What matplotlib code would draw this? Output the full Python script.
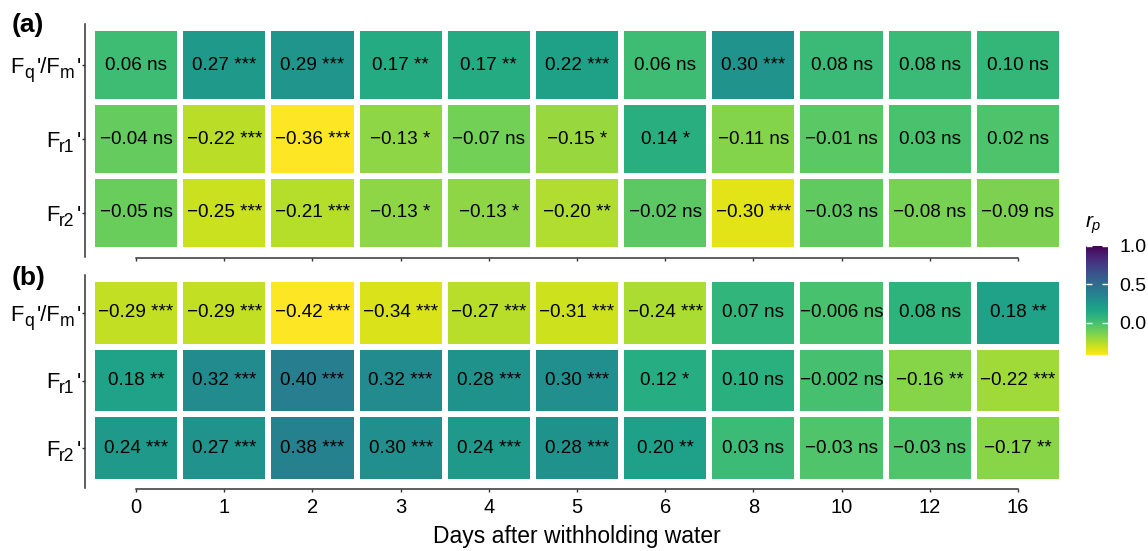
import numpy as np
import matplotlib
matplotlib.use("Agg")
import matplotlib.pyplot as plt
from matplotlib.colors import Normalize
from matplotlib.cm import ScalarMappable
from matplotlib.transforms import IdentityTransform

plt.rcParams['font.family'] = ['Liberation Sans', 'DejaVu Sans']
plt.rcParams['mathtext.fontset'] = 'custom'
plt.rcParams['mathtext.rm'] = 'Liberation Sans'
plt.rcParams['mathtext.it'] = 'Liberation Sans:italic'

days = ['0', '1', '2', '3', '4', '5', '6', '8', '10', '12', '16']
# row labels as (text, is_subscript) pieces
rows = [
    [("F", 0), ("q", 1), ("'/F", 0), ("m", 1), ("'", 0)],
    [("F", 0), ("r1", 1), ("'", 0)],
    [("F", 0), ("r2", 1), ("'", 0)],
]

r_a = [
    [0.06, 0.27, 0.29, 0.17, 0.17, 0.22, 0.06, 0.30, 0.08, 0.08, 0.10],
    [-0.04, -0.22, -0.36, -0.13, -0.07, -0.15, 0.14, -0.11, -0.01, 0.03, 0.02],
    [-0.05, -0.25, -0.21, -0.13, -0.13, -0.20, -0.02, -0.30, -0.03, -0.08, -0.09],
]
sig_a = [
    ['ns', '***', '***', '**', '**', '***', 'ns', '***', 'ns', 'ns', 'ns'],
    ['ns', '***', '***', '*', 'ns', '*', '*', 'ns', 'ns', 'ns', 'ns'],
    ['ns', '***', '***', '*', '*', '**', 'ns', '***', 'ns', 'ns', 'ns'],
]
r_b = [
    [-0.29, -0.29, -0.42, -0.34, -0.27, -0.31, -0.24, 0.07, -0.006, 0.08, 0.18],
    [0.18, 0.32, 0.40, 0.32, 0.28, 0.30, 0.12, 0.10, -0.002, -0.16, -0.22],
    [0.24, 0.27, 0.38, 0.30, 0.24, 0.28, 0.20, 0.03, -0.03, -0.03, -0.17],
]
sig_b = [
    ['***', '***', '***', '***', '***', '***', '***', 'ns', 'ns', 'ns', '**'],
    ['**', '***', '***', '***', '***', '***', '*', 'ns', 'ns', '**', '***'],
    ['***', '***', '***', '***', '***', '***', '**', 'ns', 'ns', 'ns', '**'],
]

W, H = 1148, 551
fig = plt.figure(figsize=(W / 100, H / 100), dpi=100)


def box(x0, y0, x1, y1):
    return [x0 / W, 1 - y1 / H, (x1 - x0) / W, (y1 - y0) / H]


def fmt(v):
    s = f"{v:.3f}" if (abs(v) < 0.01 and v != 0) else f"{v:.2f}"
    return s.replace('-', '\u2212')


PX = 0.72  # points per pixel
spine_col = '#333333'


def panel(ax, r, sig, top_ext, bot_ext, left_out, bot_out, pitch_y, show_x):
    data = np.array(r)
    norm = Normalize(vmin=data.min(), vmax=1.0)
    nx, ny = data.shape[1], data.shape[0]
    ax.pcolormesh(np.arange(nx + 1) - 0.5, np.arange(ny + 1) - 0.5, data,
                  cmap='viridis_r', norm=norm, edgecolors='white', linewidth=2.9)
    for i in range(ny):
        for j in range(nx):
            ax.text(j, i, f"{fmt(r[i][j])} {sig[i][j]}", ha='center', va='center',
                    fontsize=13.6, color='black')
    ax.set_xlim(-0.5, nx - 0.5)
    ax.set_ylim(ny - 0.5, -0.5)
    for s in ('top', 'right'):
        ax.spines[s].set_visible(False)
    ax.spines['left'].set_position(('outward', left_out * PX))
    ax.spines['left'].set_bounds(-0.5 - top_ext / pitch_y, ny - 0.5 + bot_ext / pitch_y)
    ax.spines['bottom'].set_position(('outward', bot_out * PX))
    ax.spines['bottom'].set_bounds(0, nx - 1)
    for s in ('left', 'bottom'):
        ax.spines[s].set_color(spine_col)
        ax.spines[s].set_linewidth(1.1)
    ax.tick_params(axis='both', length=3 * PX, width=1.0, color=spine_col)
    ax.tick_params(axis='y', labelleft=False)
    ax.tick_params(axis='x', labelsize=14.5, pad=4, labelbottom=show_x)
    ax.set_xticks(range(nx))
    ax.set_xticklabels(days)
    ax.set_yticks(range(ny))
    return norm


ax_a = fig.add_axes(box(92, 28, 1062, 250))
panel(ax_a, r_a, sig_a, 4, 7, 7, 8, 74, False)

ax_b = fig.add_axes(box(92, 279, 1062, 482))
norm_b = panel(ax_b, r_b, sig_b, 4, 6, 7, 7, 67.7, True)
ax_b.set_xlabel('Days after withholding water', fontsize=16.5, labelpad=6)

fig.text(12 / W, 1 - 25 / H, '(a)', fontsize=19, fontweight='bold', ha='left', va='center')
fig.text(12 / W, 1 - 278 / H, '(b)', fontsize=19, fontweight='bold', ha='left', va='center')

cax = fig.add_axes(box(1086, 246, 1108, 355))
cb = fig.colorbar(ScalarMappable(norm=norm_b, cmap='viridis_r'), cax=cax)
cb.outline.set_visible(False)
cb.set_ticks([0.0, 0.5, 1.0])
cb.set_ticklabels(['0.0', '0.5', '1.0'])
cax.tick_params(which='both', direction='in', color='white', labelcolor='black',
                length=4, width=1.0, left=True, right=True, labelsize=14, pad=8)
fig.text(1085 / W, 1 - 228 / H, '$r_p$', fontsize=15, ha='left', va='baseline')

# composite row labels (larger subscripts, straight apostrophes)
fig.canvas.draw()
renderer = fig.canvas.get_renderer()
LAB_SIZE = 15.8
SUB_SCALE = 0.8
RIGHT_PX = 81.5
SUB_GAP = 2.5
em_px = LAB_SIZE * 100 / 72
for ax in (ax_a, ax_b):
    for i, pieces in enumerate(rows):
        yc = ax.transData.transform((0, i))[1]
        base = yc - 0.716 * em_px / 2
        objs = []
        for txt, sub in pieces:
            size = LAB_SIZE * (SUB_SCALE if sub else 1.0)
            t = fig.text(0, 0, txt, fontsize=size, transform=IdentityTransform(),
                         ha='left', va='baseline')
            objs.append((t, sub))
        widths = [t.get_window_extent(renderer).width + (SUB_GAP if sub else 0)
                  for t, sub in objs]
        x = RIGHT_PX - sum(widths)
        for (t, sub), w in zip(objs, widths):
            t.set_position((x, base - (0.22 * em_px if sub else 0)))
            x += w

fig.savefig('out.png', dpi=100)
